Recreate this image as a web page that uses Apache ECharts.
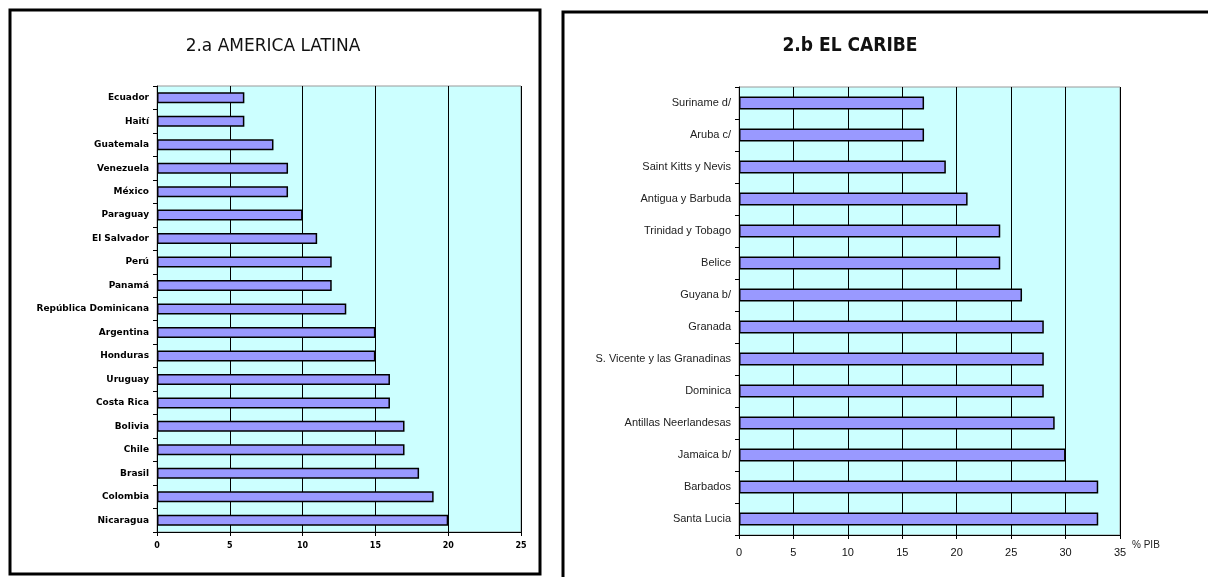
<!DOCTYPE html>
<html>
<head>
<meta charset="utf-8">
<script src="https://cdn.jsdelivr.net/npm/echarts@6/dist/echarts.min.js"></script>
<style>
  html, body {margin:0; padding:0; background:#fff;}
  #main {width:1208px; height:577px;}
</style>
</head>
<body>
<div id="main"></div>
<script>
let latam_names = ['Ecuador','Haití','Guatemala','Venezuela','México','Paraguay','El Salvador','Perú','Panamá',
    'República Dominicana','Argentina','Honduras','Uruguay','Costa Rica','Bolivia','Chile','Brasil','Colombia','Nicaragua'];
let latam_values = [6, 6, 8, 9, 9, 10, 11, 12, 12, 13, 15, 15, 16, 16, 17, 17, 18, 19, 20];

let caribe_names = ['Suriname d/','Aruba c/','Saint Kitts y Nevis','Antigua y Barbuda','Trinidad y Tobago','Belice',
    'Guyana b/','Granada','S. Vicente y las Granadinas','Dominica','Antillas Neerlandesas','Jamaica b/','Barbados','Santa Lucia'];
let caribe_values = [17, 17, 19, 21, 24, 24, 26, 28, 28, 28, 29, 30, 33, 33];

let latam_ticks = {min: 0, max: 25, interval: 5};
let caribe_ticks = {min: 0, max: 35, interval: 5};

function chart_draw(){
    let box = echarts.init(document.getElementById('main'));
    let option = {
        animation: false,
        title: [
            {text: '2.a AMERICA LATINA', left: 268, top: 33, textAlign: 'center',
                textStyle: {fontFamily: 'DejaVu Sans', fontSize: 17, fontWeight: 'normal', color: '#111'}},
            {text: '2.b EL CARIBE', left: 845, top: 32, textAlign: 'center',
                textStyle: {fontFamily: 'DejaVu Sans Condensed', fontSize: 19, fontWeight: 'bold', color: '#111'}}
        ],
        graphic: [
            {type: 'rect', shape: {x: 10, y: 10, width: 530, height: 564},
                style: {fill: 'none', stroke: '#000', lineWidth: 3}},
            {type: 'rect', shape: {x: 563, y: 12, width: 680, height: 600},
                style: {fill: 'none', stroke: '#000', lineWidth: 3}}
        ],
        grid: [
            {left: 157, right: 687, top: 86, bottom: 45, show: true,
                backgroundColor: '#ccffff', borderColor: '#999', borderWidth: 1},
            {left: 739, right: 88, top: 87, bottom: 42, show: true,
                backgroundColor: '#ccffff', borderColor: '#999', borderWidth: 1}
        ],
        xAxis: [
            {
                type: 'value', gridIndex: 0,
                min: latam_ticks.min, max: latam_ticks.max, interval: latam_ticks.interval,
                axisLine: {show: true, lineStyle: {color: '#000', width: 1}},
                axisTick: {show: true, length: 4, lineStyle: {color: '#000'}},
                axisLabel: {color: '#000', fontSize: 8, fontWeight: 'bold', fontFamily: 'DejaVu Sans', margin: 10},
                splitLine: {show: true, lineStyle: {color: '#000', width: 1}}
            },
            {
                type: 'value', gridIndex: 1,
                min: caribe_ticks.min, max: caribe_ticks.max, interval: caribe_ticks.interval,
                name: '% PIB', nameLocation: 'end', nameGap: 12,
                nameTextStyle: {color: '#222', fontSize: 10, fontFamily: 'Liberation Sans',
                    verticalAlign: 'top', padding: [5, 0, 0, 0]},
                axisLine: {show: true, lineStyle: {color: '#000', width: 1}},
                axisTick: {show: true, length: 4, lineStyle: {color: '#000'}},
                axisLabel: {color: '#111', fontSize: 11, fontFamily: 'Liberation Sans', margin: 12},
                splitLine: {show: true, lineStyle: {color: '#000', width: 1}}
            }
        ],
        yAxis: [
            {
                type: 'category', gridIndex: 0, inverse: true,
                data: latam_names,
                axisLine: {show: true, lineStyle: {color: '#000', width: 1}},
                axisTick: {show: true, length: 4, lineStyle: {color: '#000'}},
                axisLabel: {color: '#000', fontSize: 9, fontWeight: 'bold', fontFamily: 'DejaVu Sans', margin: 8},
                splitLine: {show: false}
            },
            {
                type: 'category', gridIndex: 1, inverse: true,
                data: caribe_names,
                axisLine: {show: true, lineStyle: {color: '#000', width: 1}},
                axisTick: {show: true, length: 4, lineStyle: {color: '#000'}},
                axisLabel: {color: '#222', fontSize: 11, fontFamily: 'Liberation Sans', margin: 8},
                splitLine: {show: false}
            }
        ],
        series: [
            {
                name: 'América Latina', type: 'bar',
                xAxisIndex: 0, yAxisIndex: 0,
                data: latam_values, barWidth: 11,
                itemStyle: {color: '#9999ff', borderColor: '#000', borderWidth: 1.5}
            },
            {
                name: 'El Caribe', type: 'bar',
                xAxisIndex: 1, yAxisIndex: 1,
                data: caribe_values, barWidth: 13,
                itemStyle: {color: '#9999ff', borderColor: '#000', borderWidth: 1.5}
            }
        ]
    };
    box.setOption(option);
}

chart_draw();
</script>
</body>
</html>
